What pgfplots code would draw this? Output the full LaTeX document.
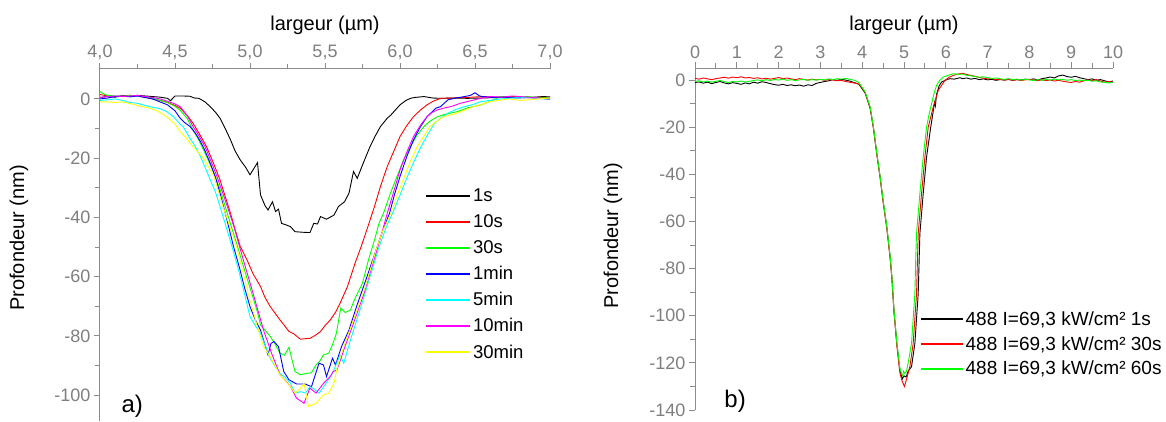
\documentclass[border=0pt]{standalone}
\usepackage{pgfplots}
\pgfplotsset{compat=1.18}
\usepackage{fontspec}
\setmainfont{Liberation Sans}
\definecolor{axgray}{HTML}{8C8C8C}
\definecolor{tkgray}{HTML}{7F7F7F}
\definecolor{cred}{HTML}{FF0000}
\definecolor{cgreen}{HTML}{00FF00}
\definecolor{cblue}{HTML}{0000FF}
\definecolor{ccyan}{HTML}{00FFFF}
\definecolor{cmag}{HTML}{FF00FF}
\definecolor{cyel}{HTML}{FFFF00}
\pgfplotsset{
 mystyle/.style={
  scale only axis,
  axis x line*=top, axis y line*=left,
  axis line style={axgray, line width=1pt},
  tick style={axgray, line width=1pt},
  tick align=outside,
  major tick length=6pt, minor tick length=5pt,
  tick label style={font=\fontsize{18}{20}\selectfont, text=tkgray},
  /pgf/number format/assume math mode=true,
  legend style={draw=none, fill=none, font=\fontsize{18.5}{22}\selectfont, inner sep=0pt},
  legend cell align=left,
  every axis plot/.append style={line width=0.9pt, mark=none},
  clip=false,
 }
}
\begin{document}
\begin{tikzpicture}[x=1pt,y=1pt]
\useasboundingbox (0,0) rectangle (1166,421);
% ---------------- panel a ----------------
\begin{axis}[mystyle,
  at={(100pt,352pt)}, anchor=north west,
  width=450pt, height=352pt,
  xmin=4, xmax=7, ymin=-108.7, ymax=10.1,
  xtick={4,4.5,5,5.5,6,6.5,7}, minor x tick num=1,
  ytick={-100,-80,-60,-40,-20,0}, minor y tick num=1,
  xticklabel style={/pgf/number format/.cd, use comma, fixed, fixed zerofill, precision=1},
  xlabel={largeur (µm)}, ylabel={Profondeur (nm)},
  every axis x label/.style={at={([yshift=44pt]rel axis cs:0.5,1)}, anchor=center, font=\fontsize{20}{24}\selectfont},
  every axis y label/.style={at={([xshift=-81pt]rel axis cs:0,0.52)}, rotate=90, anchor=center, font=\fontsize{20}{24}\selectfont},
  legend style={at={(rel axis cs:0.722,0.665)}, anchor=north west, row sep=7.3pt},
  legend image code/.code={\draw[line width=2pt,#1] (0pt,0pt) -- (44pt,0pt);},
]
\addplot[color=black] coordinates {(4.00,0.5)(4.05,0.8)(4.10,0.6)(4.15,1.0)(4.20,0.8)(4.25,1.2)(4.30,1.0)(4.35,0.8)(4.40,0.6)(4.45,0.2)(4.47,-0.6)(4.50,1.0)(4.55,1.0)(4.60,0.9)(4.63,0.3)(4.66,0.2)(4.70,-1.0)(4.735,-2.6)(4.77,-4.5)(4.80,-6.5)(4.835,-10)(4.87,-13.8)(4.90,-17.5)(4.935,-20.6)(4.97,-23)(5.00,-25.6)(5.05,-21.5)(5.07,-32.4)(5.10,-36)(5.12,-37.5)(5.15,-34.7)(5.17,-38)(5.19,-37.2)(5.21,-42)(5.24,-42.5)(5.27,-43.1)(5.30,-44.8)(5.35,-45.0)(5.40,-45.1)(5.425,-42)(5.45,-42.2)(5.47,-39.7)(5.51,-40.6)(5.56,-39.2)(5.59,-36.3)(5.63,-34.7)(5.66,-31.8)(5.69,-24.5)(5.715,-26.8)(5.75,-22.3)(5.80,-16.1)(5.835,-12.5)(5.87,-9.3)(5.915,-6.5)(5.94,-5.4)(6.00,-2.0)(6.04,-0.5)(6.07,0.2)(6.10,0.5)(6.16,0.8)(6.22,0.3)(6.27,0.2)(6.35,0.3)(6.45,0.2)(6.55,0.3)(6.65,0.5)(6.75,0.6)(6.85,0.4)(6.95,0.8)(7.00,0.7)};
\addlegendentry{1s}
\addplot[color=cred] coordinates {(4.00,1.5)(4.05,1.0)(4.10,0.8)(4.15,1.0)(4.20,1.2)(4.25,1.0)(4.30,0.5)(4.35,0.0)(4.40,-0.5)(4.45,-1.2)(4.50,-2.2)(4.534,-3.1)(4.58,-5.5)(4.62,-8.2)(4.665,-12)(4.71,-16.1)(4.755,-21.5)(4.80,-27.3)(4.835,-33)(4.87,-38.6)(4.90,-44)(4.935,-49.8)(4.98,-54.3)(5.02,-59)(5.07,-63.3)(5.10,-67)(5.135,-70.1)(5.17,-72.5)(5.20,-74.6)(5.23,-76.5)(5.26,-78.5)(5.29,-79.2)(5.336,-81.1)(5.37,-80.9)(5.40,-80.8)(5.435,-79.8)(5.47,-78.5)(5.50,-76.5)(5.535,-74.6)(5.57,-72)(5.60,-69)(5.65,-63.3)(5.70,-55.5)(5.74,-50)(5.78,-44)(5.83,-36.3)(5.87,-29.5)(5.915,-22.8)(5.96,-17.5)(6.00,-12.7)(6.045,-9)(6.09,-6)(6.135,-3.8)(6.18,-2)(6.22,-0.8)(6.27,0.2)(6.35,0.3)(6.45,0.5)(6.55,0.8)(6.65,0.6)(6.75,0.8)(6.85,0.5)(6.95,0.5)(7.00,0.3)};
\addlegendentry{10s}
\addplot[color=cgreen] coordinates {(4.00,2.5)(4.02,1.8)(4.05,1.2)(4.10,1.0)(4.15,0.8)(4.20,1.2)(4.25,1.0)(4.30,0.6)(4.35,0.3)(4.40,-0.5)(4.45,-1.2)(4.50,-2.5)(4.534,-3.8)(4.58,-6.5)(4.62,-10.5)(4.655,-13.5)(4.69,-17.2)(4.725,-21)(4.76,-25.1)(4.80,-30.5)(4.835,-36.3)(4.875,-43)(4.917,-49.8)(4.95,-55.5)(4.98,-60.5)(5.02,-67)(5.05,-72)(5.07,-76.3)(5.10,-78)(5.135,-80.2)(5.165,-82.5)(5.20,-85.8)(5.23,-86.5)(5.26,-83.8)(5.28,-88)(5.30,-92)(5.336,-93.1)(5.38,-92.6)(5.41,-92.4)(5.44,-89.8)(5.465,-88.5)(5.49,-86.4)(5.525,-85.8)(5.55,-83)(5.575,-79.3)(5.605,-70.6)(5.635,-72.1)(5.67,-71.2)(5.70,-67.3)(5.75,-62.2)(5.79,-54.3)(5.83,-47.6)(5.86,-42)(5.89,-38.6)(5.935,-32)(5.98,-26.2)(6.02,-21)(6.07,-16.1)(6.11,-12.5)(6.16,-9.3)(6.20,-7.5)(6.25,-6)(6.30,-5.2)(6.38,-4.3)(6.45,-3)(6.54,-2)(6.60,-0.8)(6.67,0.8)(6.75,0.5)(6.85,0.8)(6.92,0.4)(7.00,0.3)};
\addlegendentry{30s}
\addplot[color=cblue] coordinates {(4.00,0.0)(4.05,0.3)(4.10,0.8)(4.15,1.0)(4.20,0.7)(4.25,1.0)(4.30,0.5)(4.35,0.0)(4.40,-1.0)(4.45,-2.0)(4.50,-4.0)(4.534,-6.5)(4.565,-8)(4.60,-9.3)(4.635,-11.5)(4.67,-14.4)(4.70,-17.5)(4.735,-21.7)(4.77,-26.5)(4.80,-31.8)(4.845,-40.5)(4.89,-49.8)(4.93,-57)(4.965,-64)(5.00,-70.1)(5.035,-74.5)(5.07,-78)(5.10,-83)(5.12,-86.4)(5.14,-82.5)(5.16,-81.9)(5.19,-83.6)(5.225,-92)(5.26,-94.8)(5.31,-96.2)(5.37,-96.2)(5.38,-96.5)(5.41,-97.1)(5.46,-89.2)(5.49,-89.8)(5.51,-93.7)(5.55,-87.5)(5.57,-89.8)(5.61,-83.6)(5.66,-78)(5.71,-70.1)(5.78,-60)(5.84,-51)(5.885,-44.5)(5.93,-38.6)(5.965,-32)(6.00,-26.2)(6.045,-19.5)(6.09,-13.8)(6.135,-9.5)(6.18,-6)(6.24,-3.1)(6.27,-2.6)(6.32,-0.3)(6.37,0.3)(6.43,0.8)(6.47,1.2)(6.50,2.1)(6.53,1.0)(6.55,0.8)(6.62,0.5)(6.70,0.6)(6.78,0.3)(6.85,0.5)(6.92,0.2)(7.00,-0.1)};
\addlegendentry{1min}
\addplot[color=ccyan] coordinates {(4.00,-0.5)(4.05,-0.3)(4.10,0.0)(4.15,-0.5)(4.20,-1.2)(4.25,-1.5)(4.30,-2.2)(4.35,-2.8)(4.40,-3.3)(4.445,-4.3)(4.49,-6)(4.534,-8.5)(4.556,-9.5)(4.60,-13.3)(4.635,-16)(4.67,-19.5)(4.70,-23)(4.735,-27.3)(4.77,-31.5)(4.80,-36.3)(4.84,-43)(4.88,-49.8)(4.92,-57)(4.96,-65)(5.00,-73.5)(5.035,-76.5)(5.07,-79.1)(5.10,-83)(5.135,-87.5)(5.17,-90.5)(5.20,-92.6)(5.235,-94)(5.27,-96)(5.30,-99.3)(5.336,-98.8)(5.37,-99.3)(5.40,-97.1)(5.43,-98)(5.46,-99.3)(5.50,-96.5)(5.55,-92.6)(5.60,-86.4)(5.625,-89.2)(5.67,-81.3)(5.74,-70.1)(5.80,-60)(5.86,-50)(5.91,-43)(5.95,-38.6)(6.00,-32.5)(6.04,-27.3)(6.09,-21.5)(6.14,-16.1)(6.185,-12)(6.23,-8.2)(6.275,-6.3)(6.32,-4.8)(6.375,-3.5)(6.43,-2.6)(6.49,-1.8)(6.54,-0.9)(6.60,-0.5)(6.67,0.0)(6.75,0.3)(6.85,0.5)(6.92,0.2)(7.00,-0.1)};
\addlegendentry{5min}
\addplot[color=cmag] coordinates {(4.00,0.5)(4.05,0.8)(4.10,1.0)(4.15,0.8)(4.20,1.0)(4.25,1.2)(4.30,0.8)(4.35,0.5)(4.40,0.0)(4.445,-0.7)(4.49,-1.5)(4.534,-2.6)(4.58,-5.5)(4.62,-9.3)(4.66,-12.5)(4.70,-16.1)(4.74,-21)(4.78,-26.2)(4.82,-32)(4.857,-37.5)(4.895,-43.5)(4.93,-49.8)(4.965,-56)(5.00,-62)(5.045,-70)(5.09,-78)(5.145,-86)(5.20,-93.1)(5.235,-95)(5.27,-97.1)(5.31,-101)(5.36,-102.7)(5.39,-98.8)(5.40,-97.6)(5.44,-99.3)(5.49,-96)(5.535,-93.7)(5.555,-92)(5.58,-91.5)(5.625,-84.7)(5.69,-75.7)(5.76,-65.6)(5.84,-52)(5.88,-45)(5.915,-38.6)(5.96,-31)(6.00,-24)(6.045,-18)(6.09,-12.7)(6.135,-9)(6.18,-6)(6.215,-4.5)(6.25,-3.7)(6.30,-3.0)(6.34,-2.6)(6.40,-1.5)(6.45,-0.9)(6.52,0.0)(6.60,0.8)(6.68,0.6)(6.75,1.0)(6.85,0.6)(6.92,0.3)(7.00,0.0)};
\addlegendentry{10min}
\addplot[color=cyel] coordinates {(4.00,-1.0)(4.05,-1.0)(4.10,-1.2)(4.15,-1.0)(4.20,-1.6)(4.22,-1.8)(4.27,-2.5)(4.33,-3.1)(4.38,-4.0)(4.445,-6)(4.50,-8.5)(4.534,-11)(4.58,-13.5)(4.62,-16.1)(4.69,-20)(4.76,-26.2)(4.82,-36.3)(4.865,-43)(4.91,-49.8)(4.95,-58)(5.00,-68)(5.05,-77)(5.09,-83.5)(5.135,-87)(5.20,-93.1)(5.26,-96.5)(5.30,-99.3)(5.336,-97.6)(5.36,-96)(5.39,-103.8)(5.44,-102.7)(5.49,-99.9)(5.525,-99.3)(5.56,-96)(5.58,-90.9)(5.625,-83.6)(5.69,-74.6)(5.77,-63.3)(5.84,-51)(5.885,-44.5)(5.94,-38.6)(5.985,-32)(6.03,-26.2)(6.07,-21)(6.115,-16.1)(6.16,-12.5)(6.20,-9.3)(6.245,-7.5)(6.29,-6)(6.38,-4.8)(6.43,-3.8)(6.49,-2.6)(6.55,-1.8)(6.60,-0.9)(6.66,-0.5)(6.72,0.0)(6.80,-0.5)(6.85,-0.3)(6.92,0.0)(7.00,0.3)};
\addlegendentry{30min}
\node[anchor=west, font=\fontsize{24}{28}\selectfont] at (rel axis cs:0.04,0.043) {a)};
\end{axis}
% ---------------- panel b ----------------
\begin{axis}[mystyle,
  at={(695pt,352.7pt)}, anchor=north west,
  width=418pt, height=341.7pt,
  xmin=0, xmax=10, ymin=-140, ymax=5,
  xtick={0,1,...,10}, minor x tick num=1,
  ytick={-140,-120,-100,-80,-60,-40,-20,0}, minor y tick num=1,
  xlabel={largeur (µm)}, ylabel={Profondeur (nm)},
  every axis x label/.style={at={([yshift=43pt]rel axis cs:0.5,1)}, anchor=center, font=\fontsize{20}{24}\selectfont},
  every axis y label/.style={at={([xshift=-82pt]rel axis cs:0,0.51)}, rotate=90, anchor=center, font=\fontsize{20}{24}\selectfont},
  legend style={at={(rel axis cs:0.537,0.295)}, anchor=north west, row sep=5.6pt, font=\fontsize{19}{22}\selectfont},
  legend image code/.code={\draw[line width=2pt,#1] (0pt,0pt) -- (42pt,0pt);},
]
\addplot[color=black] coordinates {(0.0,-1.0)(0.1,-0.8)(0.2,-1.3)(0.3,-0.9)(0.4,-1.5)(0.5,-1.0)(0.6,-0.6)(0.7,-1.2)(0.8,-1.6)(0.9,-1.1)(1.0,-1.4)(1.1,-1.8)(1.2,-1.2)(1.3,-1.6)(1.4,-0.9)(1.5,-1.3)(1.6,-0.7)(1.7,-1.0)(1.8,-1.5)(1.9,-1.9)(2.0,-2.2)(2.1,-1.8)(2.2,-2.3)(2.3,-2.0)(2.4,-2.4)(2.5,-2.1)(2.6,-2.6)(2.7,-2.0)(2.8,-2.3)(2.9,-1.4)(3.0,-1.0)(3.1,-0.6)(3.2,-0.3)(3.3,0.2)(3.4,-0.1)(3.5,0.3)(3.6,0.0)(3.7,-0.4)(3.8,-1.0)(3.9,-1.6)(3.95,-2.5)(4.07,-5.5)(4.19,-12)(4.27,-20.5)(4.35,-31.5)(4.43,-41.5)(4.50,-51.5)(4.59,-62.8)(4.67,-75.5)(4.71,-84)(4.76,-98)(4.83,-112)(4.90,-123)(4.96,-126.8)(5.00,-125.5)(5.05,-126)(5.10,-123.5)(5.18,-121.6)(5.26,-111.7)(5.34,-90.5)(5.38,-65.1)(5.46,-48.1)(5.54,-32.6)(5.64,-19.9)(5.71,-12)(5.73,-9.5)(5.75,-11)(5.78,-6)(5.84,-2.5)(5.90,-0.8)(6.0,0.0)(6.10,0.6)(6.2,0.4)(6.34,1.0)(6.4,0.6)(6.5,0.9)(6.6,0.4)(6.7,0.7)(6.8,0.2)(6.9,0.5)(7.0,0.1)(7.1,0.3)(7.2,-0.1)(7.3,0.2)(7.4,0.0)(7.5,0.3)(7.6,-0.1)(7.7,0.2)(7.8,0.0)(7.9,0.4)(8.0,0.2)(8.1,0.5)(8.2,0.1)(8.3,0.6)(8.4,0.9)(8.5,1.3)(8.6,0.9)(8.7,1.8)(8.8,2.1)(8.9,1.5)(9.0,1.2)(9.1,1.6)(9.2,1.0)(9.3,0.6)(9.4,0.2)(9.5,0.5)(9.6,-0.1)(9.7,0.2)(9.8,-0.3)(9.9,-0.8)(10.0,-0.4)};
\addlegendentry{488 I=69,3 kW/cm² 1s}
\addplot[color=cred] coordinates {(0.0,0.7)(0.1,0.4)(0.2,0.9)(0.3,0.5)(0.4,0.2)(0.5,0.6)(0.6,0.9)(0.7,1.2)(0.8,0.8)(0.9,1.3)(1.0,1.0)(1.1,1.4)(1.2,0.9)(1.3,1.1)(1.4,0.7)(1.5,1.0)(1.6,0.5)(1.7,0.8)(1.8,0.4)(1.9,0.7)(2.0,1.1)(2.1,0.6)(2.2,0.9)(2.3,0.5)(2.4,0.2)(2.5,0.6)(2.6,0.3)(2.7,0.0)(2.8,0.4)(2.9,0.1)(3.0,0.3)(3.1,-0.1)(3.2,0.2)(3.3,0.0)(3.4,-0.3)(3.5,-0.1)(3.6,-0.6)(3.7,-0.9)(3.8,-1.2)(3.9,-1.6)(3.95,-2.2)(4.07,-5.2)(4.19,-11.6)(4.27,-20.5)(4.35,-31.5)(4.43,-41.5)(4.50,-51.5)(4.59,-63)(4.67,-76)(4.71,-84)(4.76,-98.5)(4.83,-113)(4.90,-124)(4.95,-127.5)(5.01,-130)(5.06,-127)(5.14,-121.6)(5.22,-111.7)(5.30,-90.5)(5.34,-65.1)(5.42,-48.1)(5.50,-32.6)(5.58,-19.9)(5.70,-11.4)(5.82,-4.3)(5.98,-0.1)(6.08,1.2)(6.18,2.0)(6.3,2.6)(6.4,2.9)(6.5,2.4)(6.6,2.0)(6.7,1.6)(6.8,1.1)(6.9,0.8)(7.0,0.5)(7.1,0.6)(7.2,0.2)(7.3,0.4)(7.4,0.0)(7.5,0.3)(7.6,-0.1)(7.7,0.2)(7.8,-0.2)(7.9,0.1)(8.0,0.3)(8.1,0.0)(8.2,-0.3)(8.3,0.1)(8.4,-0.2)(8.5,0.0)(8.6,-0.4)(8.7,-0.1)(8.8,-0.5)(8.9,-0.8)(9.0,-1.0)(9.1,-0.6)(9.2,-0.9)(9.3,-0.3)(9.4,0.1)(9.5,-0.2)(9.6,0.2)(9.7,-0.4)(9.8,-0.9)(9.9,-0.6)(10.0,-1.0)};
\addlegendentry{488 I=69,3 kW/cm² 30s}
\addplot[color=cgreen] coordinates {(0.0,-0.5)(0.1,-0.3)(0.2,-0.8)(0.3,-0.4)(0.4,-0.9)(0.5,-0.5)(0.6,-0.2)(0.7,-0.7)(0.8,-1.0)(0.9,-0.6)(1.0,-0.8)(1.1,-0.4)(1.2,-0.9)(1.3,-0.5)(1.4,-0.2)(1.5,0.1)(1.6,-0.3)(1.7,0.2)(1.8,-0.2)(1.9,0.3)(2.0,0.0)(2.1,0.4)(2.2,-0.1)(2.3,0.2)(2.4,-0.2)(2.5,0.1)(2.6,0.3)(2.7,-0.1)(2.8,0.2)(2.9,0.0)(3.0,0.3)(3.1,0.1)(3.2,0.5)(3.3,0.2)(3.4,0.6)(3.5,0.4)(3.6,0.7)(3.7,0.3)(3.8,0.0)(3.9,-0.8)(3.95,-1.8)(4.07,-5)(4.19,-11.4)(4.27,-20)(4.35,-31.2)(4.43,-41.1)(4.50,-51)(4.59,-62.3)(4.67,-75)(4.71,-83.4)(4.76,-97.6)(4.83,-111.7)(4.90,-122)(4.94,-124.5)(4.97,-125.5)(4.99,-123.5)(5.02,-124.5)(5.06,-123.5)(5.10,-120)(5.18,-111.7)(5.26,-90.5)(5.28,-76)(5.30,-65.1)(5.38,-48.1)(5.46,-32.6)(5.54,-19.9)(5.60,-14.5)(5.66,-10)(5.72,-5.5)(5.78,-2.2)(5.85,-0.2)(5.94,1.3)(6.05,2.0)(6.18,2.7)(6.3,2.4)(6.4,2.6)(6.5,2.0)(6.6,1.8)(6.7,1.5)(6.8,1.2)(6.9,1.4)(7.0,1.0)(7.1,0.7)(7.2,0.9)(7.3,0.5)(7.4,0.3)(7.5,0.6)(7.6,0.2)(7.7,0.4)(7.8,0.0)(7.9,0.3)(8.0,0.1)(8.1,-0.2)(8.2,0.2)(8.3,-0.1)(8.4,0.3)(8.5,0.0)(8.6,0.4)(8.7,0.1)(8.8,0.3)(8.9,-0.1)(9.0,0.2)(9.1,-0.2)(9.2,0.0)(9.3,-0.3)(9.4,-0.1)(9.5,-0.5)(9.6,-0.3)(9.7,-0.8)(9.8,-1.0)(9.9,-1.2)(10.0,-1.0)};
\addlegendentry{488 I=69,3 kW/cm² 60s}
\node[anchor=west, font=\fontsize{24}{28}\selectfont] at (rel axis cs:0.062,0.026) {b)};
\end{axis}
\end{tikzpicture}
\end{document}
